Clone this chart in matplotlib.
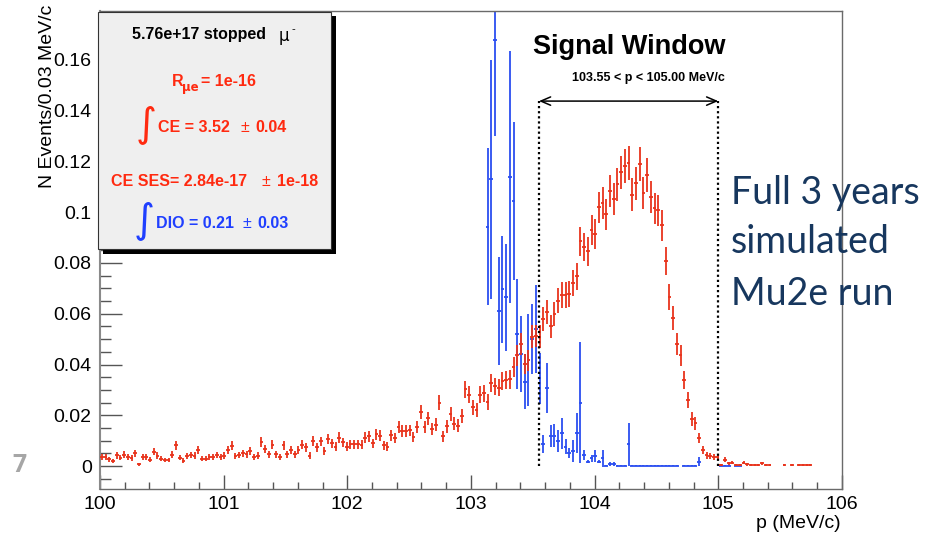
import numpy as np
import matplotlib
matplotlib.use("Agg")
import matplotlib.pyplot as plt
from matplotlib.patches import Rectangle
from matplotlib.ticker import MultipleLocator, FuncFormatter

# ---------------- data ----------------
x_start = 100.0
bin_width = 0.03          # MeV/c per bin

# CE (red) histogram, bins 0..191 starting at 100 MeV/c
ce_values = [
    0.0034, 0.0034, 0.0026, 0.0018, 0.0042, 0.0033, 0.0045, 0.0035, 0.0032, 0.0050,
    0.0007, 0.0034, 0.0034, 0.0025, 0.0056, 0.0041, 0.0028, 0.0024, 0.0024, 0.0045,
    0.0081, 0.0033, 0.0021, 0.0039, 0.0043, 0.0041, 0.0062, 0.0029, 0.0029, 0.0037,
    0.0037, 0.0043, 0.0034, 0.0041, 0.0062, 0.0080, 0.0039, 0.0043, 0.0050, 0.0047,
    0.0058, 0.0034, 0.0041, 0.0095, 0.0067, 0.0046, 0.0084, 0.0047, 0.0034, 0.0081,
    0.0047, 0.0062, 0.0047, 0.0062, 0.0084, 0.0074, 0.0041, 0.0100, 0.0074, 0.0097,
    0.0059, 0.0106, 0.0089, 0.0076, 0.0112, 0.0093, 0.0076, 0.0085, 0.0085, 0.0085,
    0.0084, 0.0112, 0.0117, 0.0089, 0.0125, 0.0120, 0.0081, 0.0076, 0.0121, 0.0109,
    0.0154, 0.0139, 0.0139, 0.0140, 0.0114, 0.0155, 0.0213, 0.0155, 0.0188, 0.0147,
    0.0163, 0.0250, 0.0117, 0.0156, 0.0204, 0.0167, 0.0159, 0.0197, 0.0302, 0.0281,
    0.0231, 0.0221, 0.0281, 0.0286, 0.0252, 0.0326, 0.0314, 0.0309, 0.0335, 0.0338,
    0.0341, 0.0391, 0.0437, 0.0481, 0.0402, 0.0416, 0.0510, 0.0512, 0.0510, 0.0579,
    0.0608, 0.0550, 0.0599, 0.0651, 0.0674, 0.0674, 0.0679, 0.0722, 0.0747, 0.0885,
    0.0863, 0.0846, 0.0929, 0.0915, 0.1019, 0.1035, 0.0992, 0.1084, 0.1051, 0.1111,
    0.1157, 0.1182, 0.1194, 0.1069, 0.1114, 0.1190, 0.1076, 0.1147, 0.1059, 0.1015,
    0.1007, 0.0948, 0.0808, 0.0667, 0.0582, 0.0480, 0.0437, 0.0339, 0.0260, 0.0185,
    0.0169, 0.0110, 0.0064, 0.0042, 0.0038, 0.0034, 0.0035, 0.0003, 0.0025, 0.0011,
    0.0013, 0.0003, 0.0003, 0.0013, 0.0007, 0.0003, 0.0003, 0.0003, 0.0011, 0.0003,
    0.0003, 0.0, 0.0, 0.0, 0.0003, 0.0, 0.0003, 0.0, 0.0003, 0.0003,
    0.0003, 0.0003,
]
ce_errors = [
    0.00115, 0.00115, 0.0010, 0.0008, 0.00125, 0.0011, 0.0013, 0.00115, 0.0011, 0.0014,
    0.0005, 0.00115, 0.00115, 0.0010, 0.00145, 0.00125, 0.0010, 0.00095, 0.00095, 0.0013,
    0.00175, 0.0011, 0.0009, 0.0012, 0.0013, 0.00125, 0.00155, 0.00105, 0.00105, 0.0012,
    0.0012, 0.0013, 0.00115, 0.00125, 0.00155, 0.00175, 0.0012, 0.0013, 0.0014, 0.00135,
    0.0015, 0.00115, 0.00125, 0.0019, 0.0016, 0.0013, 0.0018, 0.00135, 0.00115, 0.00175,
    0.00135, 0.00155, 0.00135, 0.00155, 0.0018, 0.0017, 0.00125, 0.00195, 0.0017, 0.0019,
    0.0015, 0.0020, 0.00185, 0.0017, 0.00205, 0.0019, 0.0017, 0.0018, 0.0018, 0.0018,
    0.0018, 0.00205, 0.0021, 0.00185, 0.00215, 0.00215, 0.00175, 0.0017, 0.00215, 0.0020,
    0.0024, 0.0023, 0.0023, 0.0023, 0.0021, 0.0024, 0.00285, 0.0024, 0.00265, 0.00235,
    0.0025, 0.0031, 0.0021, 0.0024, 0.0028, 0.00255, 0.00245, 0.00275, 0.0034, 0.0033,
    0.00295, 0.0029, 0.0033, 0.0033, 0.0031, 0.0035, 0.00345, 0.00345, 0.0036, 0.0036,
    0.0036, 0.0039, 0.0041, 0.0043, 0.0039, 0.0040, 0.0044, 0.0044, 0.0044, 0.0047,
    0.0048, 0.0046, 0.0048, 0.0050, 0.0051, 0.0051, 0.0051, 0.0052, 0.0053, 0.0058,
    0.0057, 0.0057, 0.0059, 0.0059, 0.0062, 0.0063, 0.0062, 0.0064, 0.0063, 0.0065,
    0.0066, 0.0067, 0.0067, 0.0064, 0.0065, 0.0067, 0.0064, 0.0066, 0.0063, 0.0062,
    0.0062, 0.0060, 0.0055, 0.0051, 0.0047, 0.0043, 0.0041, 0.0036, 0.00315, 0.00265,
    0.00255, 0.00205, 0.0016, 0.00125, 0.0012, 0.00115, 0.00115, 0.00034, 0.0010, 0.00065,
    0.0007, 0.00034, 0.00034, 0.0007, 0.0005, 0.00034, 0.00034, 0.00034, 0.00065, 0.00034,
    0.00034, 0.0, 0.0, 0.0, 0.00034, 0.0, 0.00034, 0.0, 0.00034, 0.00034,
    0.00034, 0.00034,
]

# DIO (blue) histogram, bins 104..172
dio_first_bin = 104
dio_values = [
    0.0943, 0.113, 0.168, 0.0612, 0.0696, 0.0665, 0.114, 0.1044, 0.052, 0.044,
    0.0332, 0.0418, 0.050, 0.054, 0.0345, 0.0087, 0.0306, 0.0118, 0.0120, 0.0098,
    0.0129, 0.0076, 0.0052, 0.0060, 0.0129, 0.0250, 0.0043, 0.0017, 0.0030, 0.0039,
    0.0017, 0.0030, 0.0002, 0.0008, 0.0008, 0.0002, 0.0002, 0.0002, 0.0085, 0.0002,
    0.0002, 0.0002, 0.0002, 0.0002, 0.0002, 0.0002, 0.0002, 0.0002, 0.0002, 0.0002,
    0.0002, 0.0002, 0.0, 0.0002, 0.0002, 0.0002, 0.0002, 0.0017, 0.0, 0.0,
    0.0, 0.0, 0.0, 0.0002, 0.0002, 0.0002, 0.0, 0.0002, 0.0002,
]
dio_errors = [
    0.031, 0.047, 0.038, 0.0213, 0.021, 0.021, 0.0497, 0.031, 0.0217, 0.015,
    0.0108, 0.018, 0.0138, 0.0173, 0.010, 0.0036, 0.0098, 0.0043, 0.0044, 0.0043,
    0.0062, 0.0030, 0.0020, 0.0043, 0.0079, 0.0238, 0.0020, 0.0007, 0.0013, 0.0024,
    0.0007, 0.0032, 0.0002, 0.0008, 0.0008, 0.0002, 0.0002, 0.0002, 0.0085, 0.0002,
    0.0002, 0.0002, 0.0002, 0.0002, 0.0002, 0.0002, 0.0002, 0.0002, 0.0002, 0.0002,
    0.0002, 0.0002, 0.0, 0.0002, 0.0002, 0.0002, 0.0002, 0.0017, 0.0, 0.0,
    0.0, 0.0, 0.0, 0.0002, 0.0002, 0.0002, 0.0, 0.0002, 0.0002,
]

window_low = 103.55
window_high = 105.00
window_arrow_y = 0.1438

x_ticks = [100, 101, 102, 103, 104, 105, 106]
y_ticks = [0, 0.02, 0.04, 0.06, 0.08, 0.1, 0.12, 0.14, 0.16]

# ---------------- figure ----------------
W, H = 929, 535
plt.rcParams["font.family"] = ["Liberation Sans", "DejaVu Sans"]
fig = plt.figure(figsize=(W / 100, H / 100), dpi=100)


def fx(px):
    return px / W


def fy(py):
    return 1 - py / H


ax = fig.add_axes([fx(100), fy(489), (841.9 - 100) / W, (489 - 11) / H])
ax.set_xlim(100, 106)
ax.set_ylim(-0.00906, 0.1793)

RED = "#e8341c"
BLUE = "#2b4ef0"

# DIO
dv = np.array(dio_values)
de = np.array(dio_errors)
dx = x_start + bin_width * (np.arange(len(dv)) + dio_first_bin + 0.5)
m = dv > 0
ax.errorbar(dx[m], dv[m], xerr=bin_width / 2, yerr=de[m], fmt="none",
            ecolor=BLUE, elinewidth=1.3, capsize=0, zorder=2)

# CE
cv = np.array(ce_values)
ce = np.array(ce_errors)
cx = x_start + bin_width * (np.arange(len(cv)) + 0.5)
m = cv > 0
ax.errorbar(cx[m], cv[m], xerr=bin_width / 2, yerr=ce[m], fmt="none",
            ecolor=RED, elinewidth=1.3, capsize=0, zorder=3)

# signal window
for xv in (window_low, window_high):
    ax.plot([xv, xv], [0, window_arrow_y], color="black", lw=1.6,
            ls=(0, (1, 1.3)), zorder=4)
ax.annotate("", xy=(window_low, window_arrow_y), xytext=(window_high, window_arrow_y),
            arrowprops=dict(arrowstyle="<->,head_length=0.7,head_width=0.3",
                            lw=1.1, color="black", shrinkA=0, shrinkB=0,
                            mutation_scale=10), zorder=4)

# axes styling
for s in ax.spines.values():
    s.set_color("#6a6a6a")
    s.set_linewidth(1.0)
ax.spines["left"].set_color("#8a8a8a")
ax.spines["left"].set_linewidth(1.5)

ax.set_xticks(x_ticks)
ax.set_yticks(y_ticks)
ax.xaxis.set_minor_locator(MultipleLocator(0.2))
ax.yaxis.set_minor_locator(MultipleLocator(0.005))
ax.yaxis.set_major_formatter(FuncFormatter(lambda v, p: "%g" % round(v, 4)))
ax.xaxis.set_major_formatter(FuncFormatter(lambda v, p: "%d" % round(v)))
ax.tick_params(axis="y", which="major", direction="in", length=15.8, width=1,
               color="#555555", labelsize=14, pad=6)
ax.tick_params(axis="y", which="minor", direction="in", length=7.9, width=1,
               color="#555555")
ax.tick_params(axis="x", which="major", direction="in", length=10, width=1,
               color="#555555", labelsize=14, pad=5)
ax.tick_params(axis="x", which="minor", direction="in", length=5, width=1,
               color="#555555")

fig.text(fx(48), fy(5), "N Events/0.03 MeV/c", rotation=90, ha="center",
         va="top", fontsize=14)
fig.text(fx(841), fy(523), "p (MeV/c)", ha="right", va="center", fontsize=14)

# stat box with shadow
fig.add_artist(Rectangle((fx(103), fy(253.5)), (331 - 98.3) / W, (249 - 11.5) / H,
                         transform=fig.transFigure, facecolor="black",
                         edgecolor="none", zorder=5))
fig.add_artist(Rectangle((fx(98.3), fy(249)), (331 - 98.3) / W, (249 - 11.5) / H,
                         transform=fig.transFigure, facecolor="#efefef",
                         edgecolor="#333333", lw=0.8, zorder=6))

TR = "#ff2a10"
TB = "#1f3fff"
kw = dict(fontsize=11.5, fontweight="bold", va="center", ha="left", zorder=7)
fig.text(fx(132.5), fy(35), "5.76e+17 stopped", color="black", **kw)
fig.text(fx(279), fy(36), "\u03bc", color="black", fontsize=12, va="center",
         ha="left", zorder=7, family=["DejaVu Sans"])
fig.text(fx(292), fy(29), "-", color="black", fontsize=8, va="center",
         ha="left", zorder=7)

fig.text(fx(171.5), fy(81.5), "R", color=TR, **kw)
fig.text(fx(182), fy(87), "\u03bce", color=TR, fontsize=8.5, fontweight="bold",
         va="center", ha="left", zorder=7, family=["DejaVu Sans"])
fig.text(fx(201), fy(81.5), "= 1e-16", color=TR, **kw)

fig.text(fx(146), fy(124), "\u222b", color=TR, fontsize=29, ha="center",
         va="center", zorder=7, family=["DejaVu Sans"])
fig.text(fx(158), fy(127), "CE = 3.52", color=TR, **kw)
fig.text(fx(241), fy(127), "\u00b1", color=TR, fontsize=11.5, va="center",
         ha="left", zorder=7)
fig.text(fx(255), fy(127), "0.04", color=TR, **kw)

fig.text(fx(111), fy(181), "CE SES= 2.84e-17", color=TR, **kw)
fig.text(fx(261), fy(181), "\u00b1", color=TR, fontsize=11.5, va="center",
         ha="left", zorder=7)
fig.text(fx(277), fy(181), "1e-18", color=TR, **kw)

fig.text(fx(144), fy(220), "\u222b", color=TB, fontsize=29, ha="center",
         va="center", zorder=7, family=["DejaVu Sans"])
fig.text(fx(156), fy(223), "DIO = 0.21", color=TB, **kw)
fig.text(fx(243), fy(223), "\u00b1", color=TB, fontsize=11.5, va="center",
         ha="left", zorder=7)
fig.text(fx(257), fy(223), "0.03", color=TB, **kw)

# signal window text
fig.text(fx(629), fy(47), "Signal Window", fontsize=19.5, fontweight="bold",
         ha="center", va="center")
fig.text(fx(648.5), fy(78), "103.55 < p < 105.00 MeV/c", fontsize=9,
         fontweight="bold", ha="center", va="center")

# slide annotation
NAVY = "#17375e"
for txt, yb in (("Full 3 years", 204), ("simulated", 253), ("Mu2e run", 305)):
    fig.text(fx(731), fy(yb), txt, family=["Lato", "DejaVu Sans"], fontsize=27,
             color=NAVY, ha="left", va="baseline", zorder=8)

fig.text(fx(19), fy(466), "7", family=["Open Sans", "DejaVu Sans"], fontsize=18,
         fontweight="bold", color="#a6a6a6", ha="center", va="center")

fig.savefig("out.png", dpi=100)
